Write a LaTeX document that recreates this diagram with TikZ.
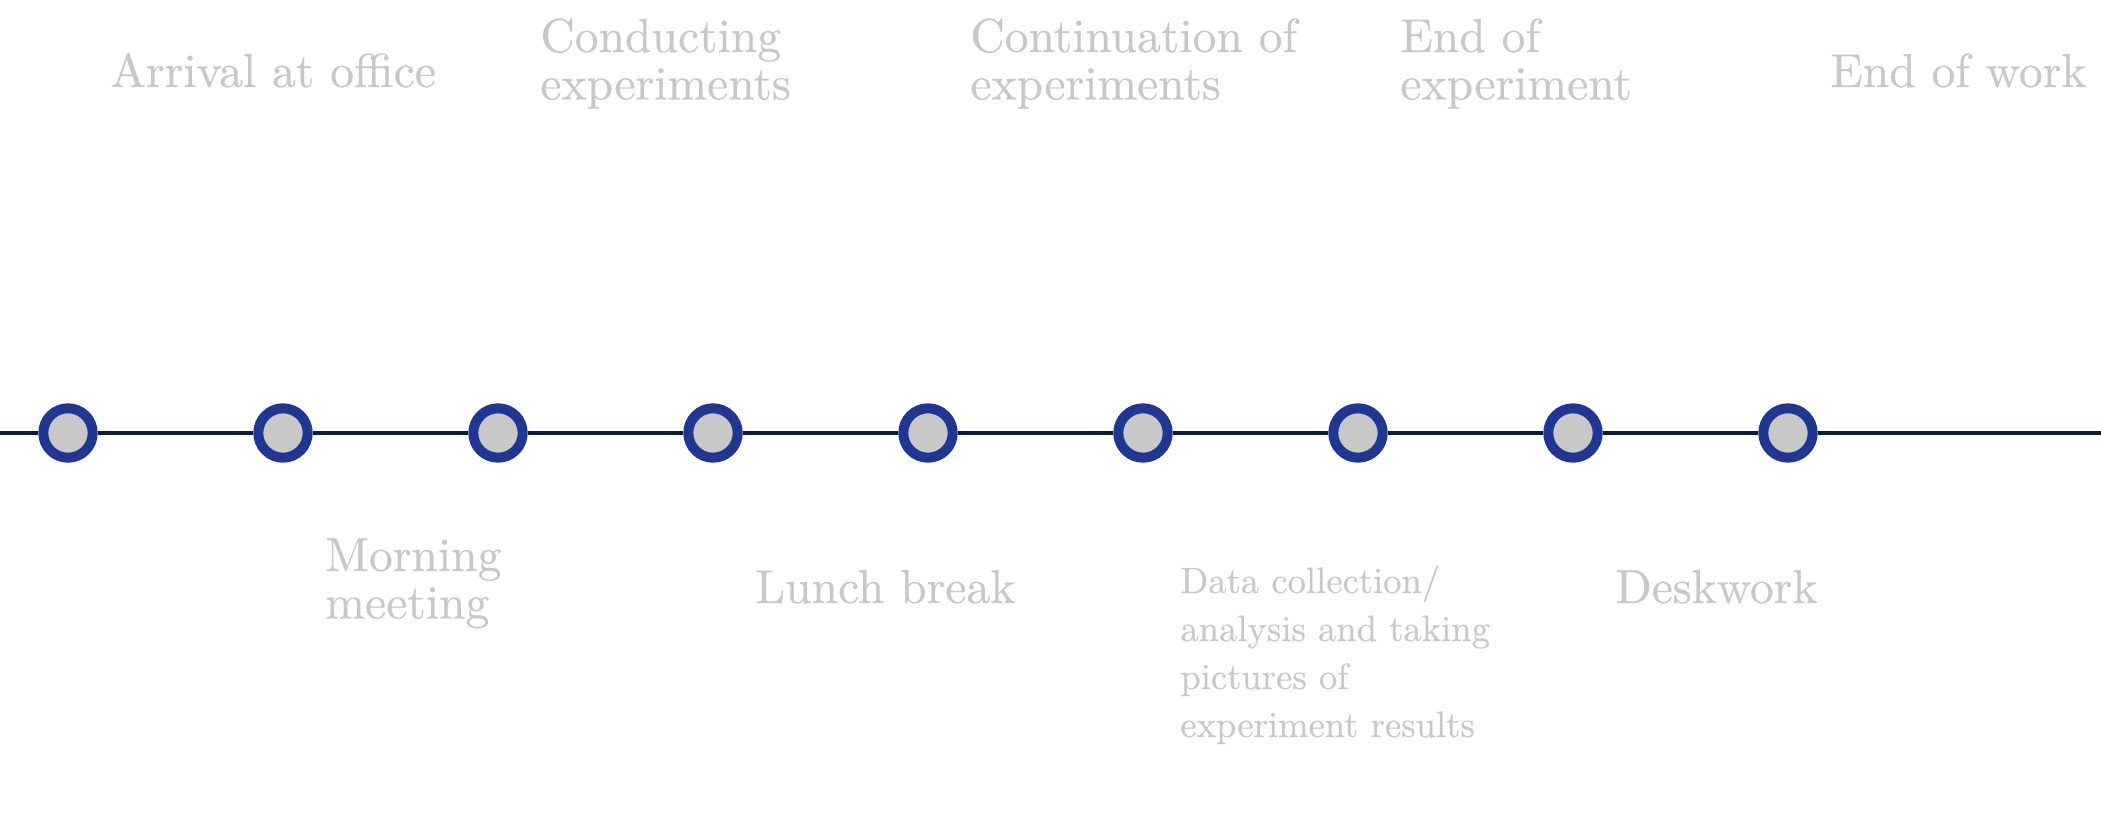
\documentclass[tikz,border=0pt]{standalone}
\usepackage{fontspec}
\setmainfont{lmroman10-regular.otf}[FakeBold=0.4]
\definecolor{lblgray}{RGB}{200,200,200}
\definecolor{ringblue}{RGB}{31,55,147}
\definecolor{dotgray}{RGB}{200,200,200}
\definecolor{axisnavy}{RGB}{8,28,66}
\newcommand\stackedlines[2]{\vtop{\baselineskip=23.75pt\hbox{#1}\hbox{#2}}}
\tikzset{
  lab/.style={font=\fontsize{23.8}{23.75}\selectfont, text=lblgray, inner sep=0pt, anchor=base west},
  smalllab/.style={font=\fontsize{18.3}{24}\selectfont, text=lblgray, inner sep=0pt, anchor=base west},
  eventdot/.style={circle, draw=ringblue, line width=5pt, fill=dotgray, minimum size=24.7pt, inner sep=0pt},
  axisline/.style={draw=axisnavy, line width=1.75pt}
}
\begin{document}
\begin{tikzpicture}[x=0.5pt,y=-0.5pt]
\useasboundingbox (0,0) rectangle (2101,813);
\coordinate (L) at (0,433);
\coordinate (R) at (2101,433);
\foreach \i in {1,...,9} {
  \node[eventdot] (c\i) at ({68+215*(\i-1)},433) {};
}
\draw[axisline] (L) -- (c1) -- (c2) -- (c3) -- (c4) -- (c5) -- (c6) -- (c7) -- (c8) -- (c9) -- (R);
% top labels
\node[lab] (t1) at (110,87) {Arrival at office};
\node[lab] (t3) at (540,52) {\stackedlines{Conducting}{experiments}};
\node[lab] (t5) at (970,52) {\stackedlines{Continuation of}{experiments}};
\node[lab] (t7) at (1400,52) {\stackedlines{End of}{experiment}};
\node[lab] (t9) at (1830,87) {End of work};
% bottom labels
\node[lab] (b2) at (325,571) {\stackedlines{Morning}{meeting}};
\node[lab] (b4) at (755,603) {Lunch break};
\node[smalllab] (b6) at (1180,593) {\vtop{\baselineskip=24pt\hbox{Data collection/}\hbox{analysis and taking}\hbox{pictures of}\hbox{experiment results}}};
\node[lab] (b8) at (1615,603) {Deskwork};
\end{tikzpicture}
\end{document}
